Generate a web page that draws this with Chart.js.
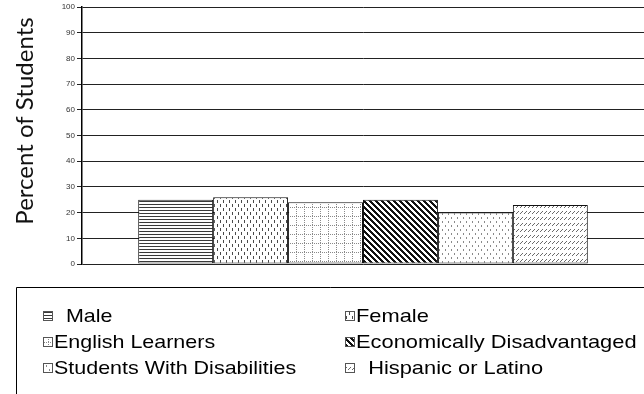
<!DOCTYPE html>
<html>
<head>
<meta charset="utf-8">
<script src="https://cdn.jsdelivr.net/npm/chart.js@4/dist/chart.umd.min.js"></script>
<style>
  html, body { margin: 0; padding: 0; background: #fff; }
  #wrap { width: 644px; height: 394px; }
</style>
</head>
<body>
<div id="wrap"><canvas id="chart" width="644" height="394"></canvas></div>
<script>
// Student groups and the percent of students in each
const groups = ['  Male', 'Female', 'English Learners', 'Economically Disadvantaged', 'Students With Disabilities', '  Hispanic or Latino'];
const percents = [25, 26, 24, 25, 20, 23];
const yTicks = [0, 10, 20, 30, 40, 50, 60, 70, 80, 90, 100];
const axisTitle = 'Percent of Students';

// Build a repeating fill from a small tile painted pixel by pixel
function makePattern(w, h, paint) {
  const t = document.createElement('canvas');
  t.width = w; t.height = h;
  const c = t.getContext('2d');
  c.fillStyle = '#fff';
  c.fillRect(0, 0, w, h);
  paint(c, w, h);
  return document.getElementById('chart').getContext('2d').createPattern(t, 'repeat');
}
function px(c, color, x, y, w, h) { c.fillStyle = color; c.fillRect(x, y, w || 1, h || 1); }

const fills = [
  // horizontal lines
  makePattern(4, 3, (c) => { px(c, '#3a3a3a', 0, 0, 4, 1); }),
  // staggered vertical dashes
  makePattern(6, 8, (c) => { px(c, '#4a4a4a', 1, 0, 1, 3); px(c, '#4a4a4a', 4, 4, 1, 3); }),
  // dotted grid
  makePattern(8, 9, (c) => {
    for (let x = 0; x < 8; x += 2) px(c, '#8a8a8a', x, 0);
    for (let y = 0; y < 9; y += 2) px(c, '#8a8a8a', 0, y);
  }),
  // heavy downward diagonals
  makePattern(6, 6, (c) => {
    for (let y = 0; y < 6; y++) for (let x = 0; x < 6; x++) {
      const d = ((x - y) % 6 + 6) % 6;
      if (d < 3) px(c, '#111', x, y);
    }
  }),
  // sparse dots
  makePattern(6, 8, (c) => { px(c, '#8a8a8a', 1, 1, 1, 2); px(c, '#8a8a8a', 4, 5, 1, 2); }),
  // small forward slashes in rows
  makePattern(4, 6, (c) => { px(c, '#6a6a6a', 0, 3); px(c, '#6a6a6a', 1, 2); px(c, '#6a6a6a', 2, 1); })
];

// Axis title and boxed legend drawn onto the chart canvas
const decorations = {
  id: 'decorations',
  afterDraw(chart) {
    const ctx = chart.ctx;
    ctx.save();
    // rotated y-axis title
    ctx.translate(33, 121);
    ctx.rotate(-Math.PI / 2);
    ctx.font = '24px Lato, "Open Sans", sans-serif';
    ctx.fillStyle = '#111';
    ctx.textAlign = 'center';
    ctx.textBaseline = 'alphabetic';
    ctx.fillText(axisTitle, 0, 0);
    ctx.restore();

    // legend frame
    ctx.save();
    ctx.strokeStyle = '#000';
    ctx.lineWidth = 1;
    ctx.beginPath();
    ctx.moveTo(16.5, 400);
    ctx.lineTo(16.5, 287.5);
    ctx.lineTo(650, 287.5);
    ctx.stroke();

    const colX = [43, 345];
    const baseY = [322, 348, 374];
    chart.data.datasets.forEach((ds, i) => {
      const col = i % 2, row = Math.floor(i / 2);
      const ix = colX[col], by = baseY[row];
      ctx.fillStyle = ds.backgroundColor;
      ctx.fillRect(ix, by - 11, 10, 10);
      ctx.strokeStyle = '#555';
      ctx.lineWidth = 1;
      ctx.strokeRect(ix + 0.5, by - 10.5, 9, 9);
      ctx.save();
      ctx.translate(ix + 11, by);
      ctx.scale(col ? 1.15 : 1.13, 1);
      ctx.font = '19px "Liberation Sans", Arial, sans-serif';
      ctx.fillStyle = '#000';
      ctx.textBaseline = 'alphabetic';
      ctx.fillText(ds.label, 0, 0);
      ctx.restore();
    });
    ctx.restore();
  }
};

new Chart(document.getElementById('chart'), {
  type: 'bar',
  data: {
    labels: [''],
    datasets: groups.map((g, i) => ({
      label: g,
      data: [percents[i]],
      backgroundColor: fills[i],
      borderColor: '#111',
      borderWidth: 1,
      borderSkipped: false,
      categoryPercentage: 0.8,
      barPercentage: 1.0
    }))
  },
  options: {
    responsive: false,
    animation: false,
    devicePixelRatio: 1,
    layout: { padding: { top: 7, right: 0, bottom: 130, left: 0 } },
    plugins: { legend: { display: false }, tooltip: { enabled: false } },
    scales: {
      x: { display: false },
      y: {
        min: 0, max: 100,
        afterBuildTicks: (s) => { s.ticks = yTicks.map(v => ({ value: v })); },
        afterFit: (s) => { s.width = 82; },
        ticks: {
          font: { family: '"Liberation Sans", Arial, sans-serif', size: 8 },
          color: '#333',
          padding: 2
        },
        grid: { color: '#222', lineWidth: 1, tickLength: 5, drawTicks: true },
        border: { color: '#000', width: 1.5 }
      }
    }
  },
  plugins: [decorations]
});
</script>
</body>
</html>
